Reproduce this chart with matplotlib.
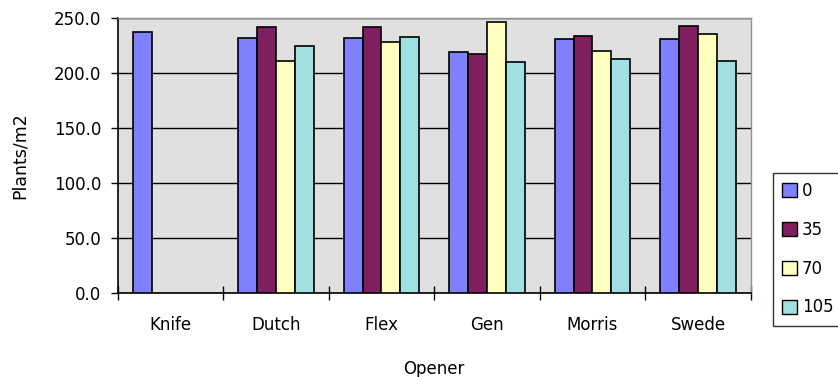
import matplotlib
matplotlib.use("Agg")
import matplotlib.pyplot as plt
from matplotlib.patches import Patch
from matplotlib.ticker import FormatStrFormatter
import numpy as np

openers = ["Knife", "Dutch", "Flex", "Gen", "Morris", "Swede"]
rates = ["0", "35", "70", "105"]

# plants/m2 per opener, one list per seeding rate (Knife only sown at 0)
rate_0 = [237.4, 232.0, 232.0, 219.2, 231.6, 231.6]
rate_35 = [np.nan, 242.5, 242.5, 217.4, 233.8, 242.9]
rate_70 = [np.nan, 211.6, 228.3, 246.5, 220.7, 235.6]
rate_105 = [np.nan, 224.7, 233.4, 210.1, 213.4, 211.5]

series = [rate_0, rate_35, rate_70, rate_105]
colors = ["#8080FF", "#7F1F5F", "#FFFFC0", "#A0E0E0"]

plt.rcParams["font.family"] = "DejaVu Sans"
plt.rcParams["font.size"] = 12

fig = plt.figure(figsize=(8.38, 3.77), dpi=100)
ax = fig.add_axes([117.7 / 838, 83.7 / 377, 633 / 838, 275 / 377])
ax.set_facecolor("#E0E0E0")

x = np.arange(len(openers))
n = len(series)
w = 1 / (n + 1.6)
for j, (vals, c) in enumerate(zip(series, colors)):
    ax.bar(x - n * w / 2 + (j + 0.5) * w, vals, width=w, color=c,
           edgecolor="black", linewidth=1.2, zorder=3)

ax.set_xlim(-0.5, len(openers) - 0.5)
ax.set_ylim(0, 250)
ax.set_yticks(np.arange(0, 251, 50))
ax.yaxis.set_major_formatter(FormatStrFormatter("%.1f"))
ax.yaxis.grid(True, color="black", linewidth=1.0, zorder=1)
ax.set_axisbelow(True)

# category ticks sit between groups, labels at group centres
ax.set_xticks(np.arange(-0.5, len(openers)), minor=False)
ax.set_xticklabels([])
ax.set_xticks(x, minor=True)
ax.set_xticklabels(openers, minor=True)
ax.tick_params(axis="x", which="major", direction="inout", length=9.5,
               width=1.0, color="black")
ax.tick_params(axis="x", which="minor", length=0, pad=16)
ax.tick_params(axis="y", direction="out", length=5, width=1.0, pad=7)

for side in ["top", "right"]:
    ax.spines[side].set_color("#909090")
    ax.spines[side].set_linewidth(1.0)
for side in ["left", "bottom"]:
    ax.spines[side].set_color("black")
    ax.spines[side].set_linewidth(1.2)

ax.set_xlabel("Opener", labelpad=19)
ax.set_ylabel("Plants/m2", labelpad=18, fontsize=12.5)

handles = [Patch(facecolor=c, edgecolor="black", linewidth=1.0) for c in colors]
leg = fig.legend(handles, rates, loc="upper left",
                 bbox_to_anchor=(772.7 / 838, 1 - 172.7 / 377),
                 bbox_transform=fig.transFigure, borderaxespad=0,
                 frameon=True, fancybox=False, handlelength=0.9,
                 handleheight=0.9, handletextpad=0.3, labelspacing=1.25,
                 borderpad=0.55, fontsize=12)
leg.get_frame().set_edgecolor("black")
leg.get_frame().set_linewidth(1.0)

fig.savefig("out.png", dpi=100)
